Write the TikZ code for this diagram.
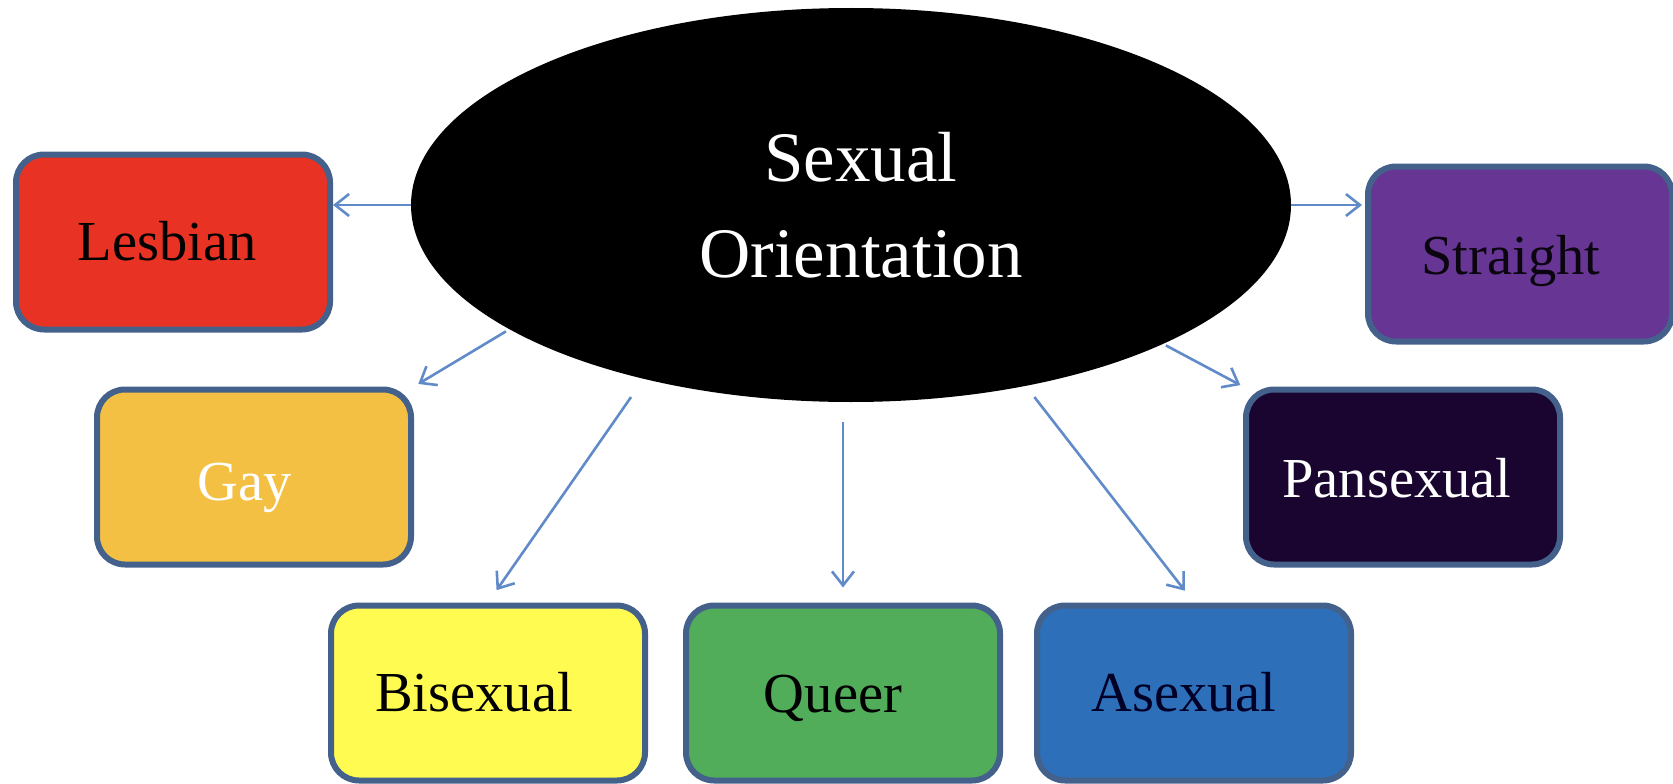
\documentclass[tikz,border=0pt]{standalone}
\usepackage{fontspec}
\setmainfont{Liberation Serif}
\usetikzlibrary{shapes.geometric,arrows.meta}
\definecolor{bordc}{RGB}{68,97,140}
\definecolor{arrc}{RGB}{96,139,200}
\definecolor{cles}{RGB}{232,51,36}
\definecolor{cgay}{RGB}{244,192,67}
\definecolor{cbi}{RGB}{255,251,80}
\definecolor{cqu}{RGB}{82,173,91}
\definecolor{cas}{RGB}{45,111,185}
\definecolor{cpan}{RGB}{26,5,48}
\definecolor{cstr}{RGB}{103,54,149}
\begin{document}
\begin{tikzpicture}[x=1pt,y=-1pt,
  catbox/.style={draw=bordc, line width=6pt, rounded corners=28pt,
    minimum width=314pt, minimum height=175pt, inner sep=0pt,
    font=\fontsize{56.5}{60}\selectfont},
  tx/.style 2 args={text height=50pt, text depth=#2, execute at begin node={\kern#1}},
  arr/.style={draw=arrc, line width=2.6pt, -{Straight Barb[length=14pt,width=22pt]}}]
\useasboundingbox (0,0) rectangle (1673,784);
\node[ellipse, fill=black, minimum width=880pt, minimum height=394pt, inner sep=0pt,
  text=white, align=center, font=\fontsize{71}{96}\selectfont] (ell) at (851,205)
  {\hspace*{20pt}Sexual\\\hspace*{20pt}Orientation};
\node[catbox, fill=cles, text=black, tx={-12pt}{14pt}] (les) at (173,242) {Lesbian};
\node[catbox, fill=cgay, text=white, tx={-18pt}{4pt}] (gay) at (254,477) {Gay};
\node[catbox, fill=cbi, text=black, tx={-28pt}{14pt}] (bi) at (488,693) {Bisexual};
\node[catbox, fill=cqu, text=black, tx={-20pt}{11pt}] (qu) at (843,693) {Queer};
\node[catbox, fill=cas, text=black!85!blue, tx={-20pt}{14pt}] (as) at (1194,693) {Asexual};
\node[catbox, fill=cpan, text=white, tx={-12pt}{9pt}] (pan) at (1403,477) {Pansexual};
\node[catbox, fill=cstr, text=black!90!cstr, minimum width=304pt, tx={-18pt}{9pt}] (str) at (1520,254) {Straight};
\draw[arr] (ell.west) -- (ell.west -| les.east);
\draw[arr, shorten >=3pt] (ell.east) -- (ell.east -| str.west);
\draw[arr, shorten <=4pt, shorten >=5pt] (ell.200) -- (gay.north east);
\draw[arr, shorten <=22pt, shorten >=15pt] (ell.220.8) -- (bi.north);
\draw[arr, shorten <=20pt, shorten >=15pt] (ell.south -| qu.north) -- (qu.north);
\draw[arr, shorten <=14pt, shorten >=15pt] (ell.314.1) -- (as.north);
\draw[arr, shorten <=3pt, shorten >=3pt] (ell.336.7) -- (pan.north west);
\end{tikzpicture}
\end{document}
